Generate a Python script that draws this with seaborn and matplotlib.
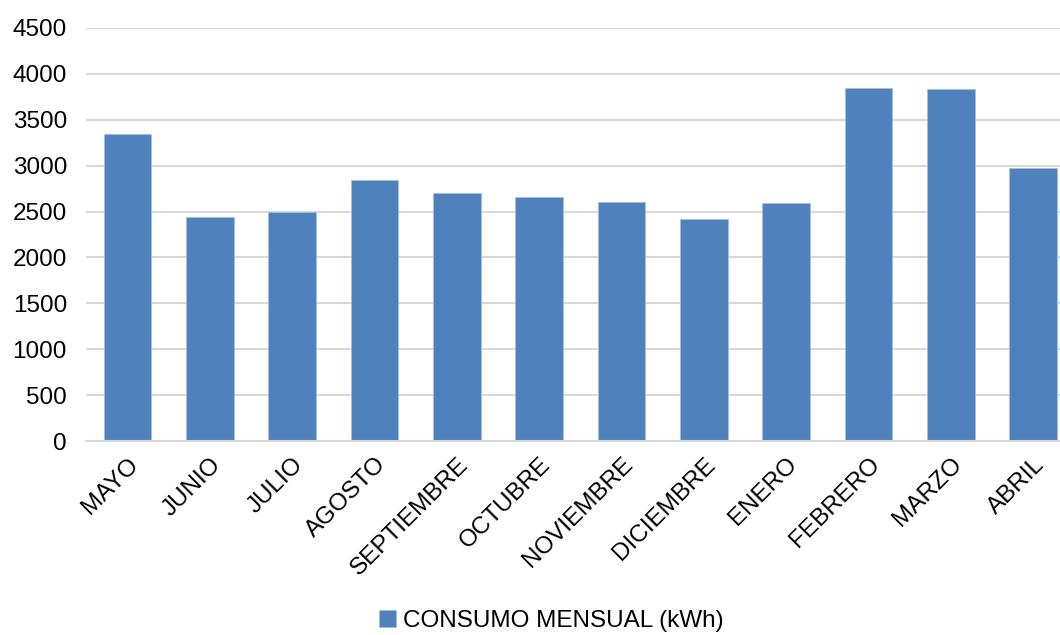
import matplotlib
matplotlib.use("Agg")
import matplotlib.pyplot as plt
import seaborn as sns
import pandas as pd

months = ["MAYO", "JUNIO", "JULIO", "AGOSTO", "SEPTIEMBRE", "OCTUBRE",
          "NOVIEMBRE", "DICIEMBRE", "ENERO", "FEBRERO", "MARZO", "ABRIL"]
consumo = [3340, 2440, 2500, 2845, 2700, 2660, 2600, 2415, 2590, 3850, 3830, 2970]
series_name = "CONSUMO MENSUAL (kWh)"
yticks = [0, 500, 1000, 1500, 2000, 2500, 3000, 3500, 4000, 4500]

sns.set_theme(style="white")
plt.rcParams['font.family'] = ['Liberation Sans', 'DejaVu Sans']

df = pd.DataFrame({"mes": months, "kwh": consumo, "serie": series_name})

fig = plt.figure(figsize=(10.6, 6.35), dpi=100)
ax = fig.add_axes([0.0815, 0.3055, 0.932, 0.6505])

sns.barplot(data=df, x="mes", y="kwh", hue="serie", palette=["#4F81BD"],
            width=0.578, ax=ax, edgecolor="#a7bfdf", linewidth=0.6,
            saturation=1, legend=True)

ax.set_ylim(0, 4500)
ax.set_xlim(-0.5, len(months) - 0.5)
ax.set_yticks(yticks)
ax.set_yticklabels([str(t) for t in yticks], fontsize=17.5, color="#000000")
ax.yaxis.grid(True, color="#d9d9d9", linewidth=1.5)
ax.set_axisbelow(True)
for s in ["top", "right", "left"]:
    ax.spines[s].set_visible(False)
ax.spines["bottom"].set_color("#d9d9d9")
ax.spines["bottom"].set_linewidth(1.5)
ax.tick_params(axis="both", length=0)
ax.tick_params(axis="y", pad=14)
ax.set_xlabel("")
ax.set_ylabel("")
plt.setp(ax.get_xticklabels(), rotation=45, ha="right", rotation_mode="anchor",
         fontsize=17.5, color="#000000")
ax.tick_params(axis="x", pad=9)

handles, labels = ax.get_legend_handles_labels()
ax.legend_.remove()
fig.legend(handles, labels, loc="center", bbox_to_anchor=(0.52, 0.022),
           frameon=False, fontsize=17.5, handlelength=0.7, handleheight=0.7,
           handletextpad=0.3, labelcolor="#000000")

fig.savefig("out.png", dpi=100)
